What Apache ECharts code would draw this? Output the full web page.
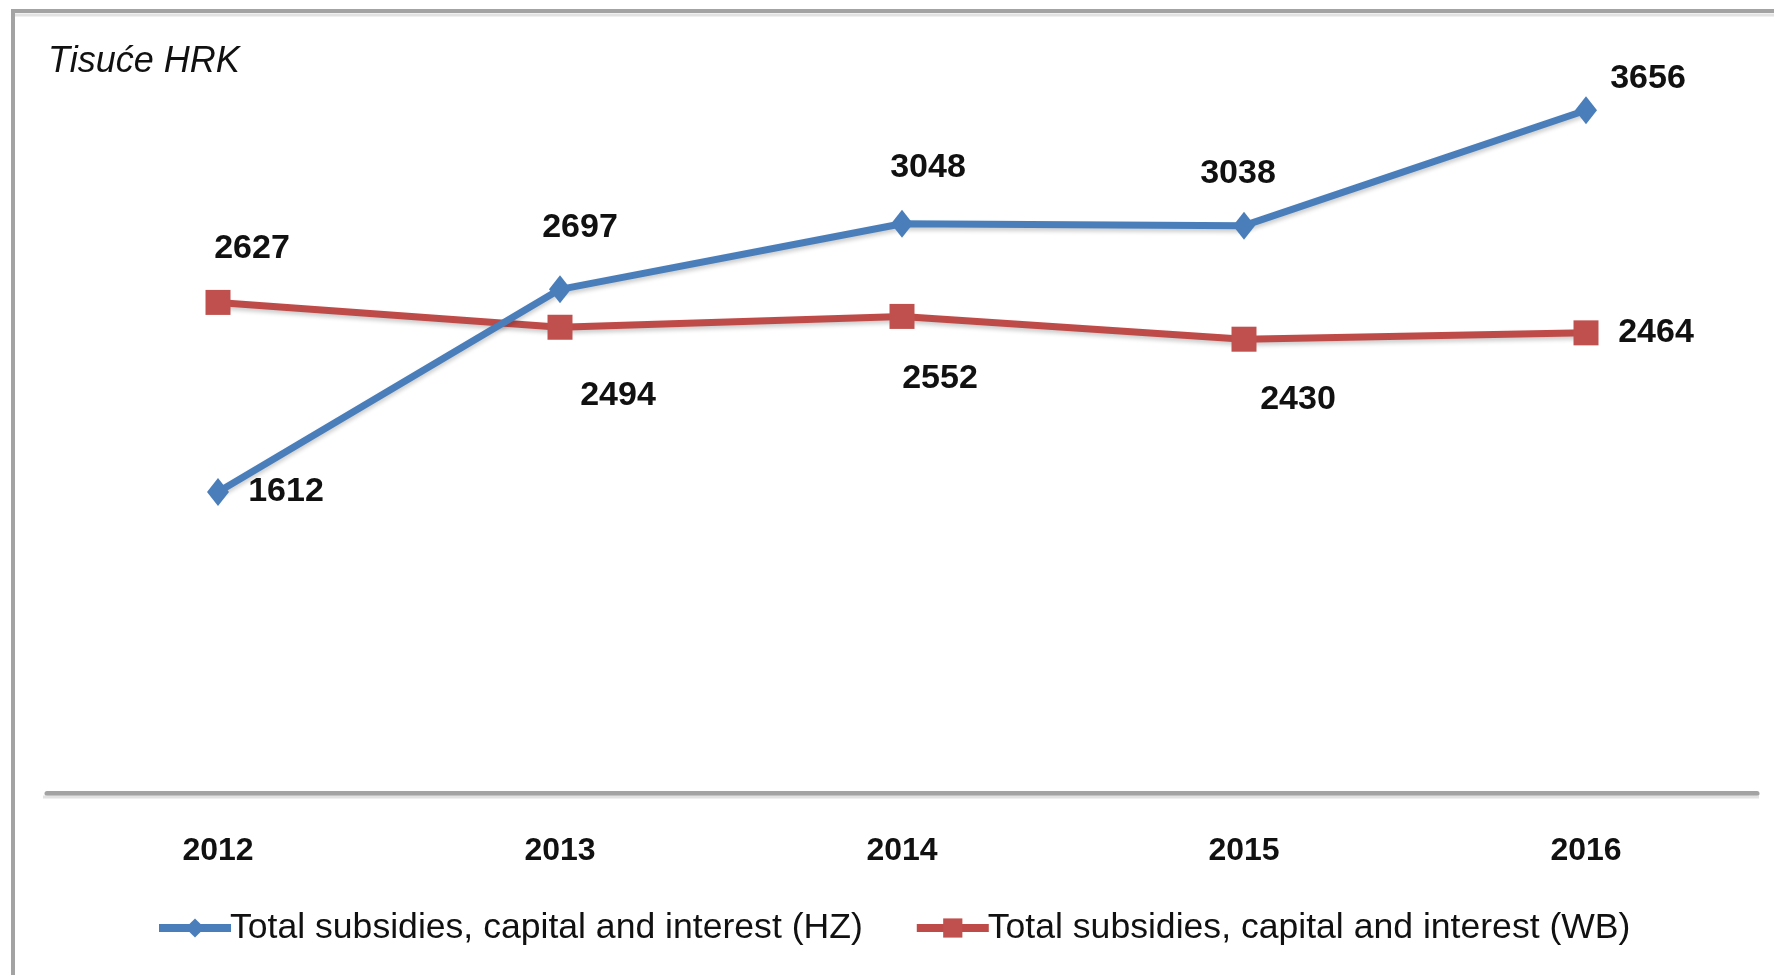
<!DOCTYPE html>
<html>
<head>
<meta charset="utf-8">
<script src="https://cdn.jsdelivr.net/npm/echarts@6/dist/echarts.min.js"></script>
<style>
  html, body { margin: 0; padding: 0; background: #fff; }
  #chart { width: 1774px; height: 975px; }
</style>
</head>
<body>
<div id="chart"></div>
<script>
// podaci
var years = ['2012', '2013', '2014', '2015', '2016'];
var hzValues = [1612, 2697, 3048, 3038, 3656];
var wbValues = [2627, 2494, 2552, 2430, 2464];
var seriesNames = ['Total subsidies, capital and interest (HZ)', 'Total subsidies, capital and interest (WB)'];

// label placement per point [dx, dy]
var hzLabelOffset = [[68, 0], [20, -62], [26, -56], [-6, -52], [62, -32]];
var wbLabelOffset = [[34, -54], [58, 68], [38, 62], [54, 60], [70, 0]];

var labelFont = {
  color: '#111',
  fontFamily: 'Liberation Sans',
  fontWeight: 'bold',
  fontSize: 34
};

function buildData (values, offsets) {
  return values.map(function (v, i) {
    return {
      value: v,
      label: Object.assign({ show: true, position: 'inside', offset: offsets[i] }, labelFont)
    };
  });
}

var chart = echarts.init(document.getElementById('chart'));
chart.setOption({
  backgroundColor: '#fff',
  animation: false,
  graphic: [
    { type: 'rect', shape: { x: 13, y: 11, width: 1800, height: 1000 },
      style: { fill: 'none', stroke: '#a3a3a3', lineWidth: 4 }, z: 0 },
    { type: 'line', shape: { x1: 15, y1: 15, x2: 1774, y2: 15 },
      style: { stroke: '#e2e2e2', lineWidth: 3 }, z: 0 },
    { type: 'text', left: 48, top: 44,
      style: { text: 'Tisuće HRK', font: 'italic 36px "Liberation Sans"', fill: '#111' } },
    { type: 'line', shape: { x1: 43, y1: 797, x2: 1759, y2: 797 },
      style: { stroke: '#e2e2e2', lineWidth: 3 }, z: 1 }
  ],
  grid: { left: 47, right: 17, top: 46, bottom: 182 },
  legend: {
    bottom: 24,
    left: 150,
    itemWidth: 72,
    itemHeight: 24,
    itemGap: 50,
    lineStyle: { width: 8 },
    textStyle: { fontFamily: 'Liberation Sans', fontSize: 35.6, color: '#111', padding: [0, 0, 0, -6] },
    data: seriesNames
  },
  xAxis: {
    type: 'category',
    data: years,
    boundaryGap: true,
    axisLine: { lineStyle: { color: '#a3a3a3', width: 5 } },
    axisTick: { show: false },
    axisLabel: { margin: 42, color: '#111', fontFamily: 'Liberation Sans', fontWeight: 'bold', fontSize: 32 }
  },
  yAxis: {
    type: 'value',
    min: 0,
    max: 4000,
    show: false,
    splitLine: { show: false }
  },
  series: [
    {
      name: seriesNames[0],
      type: 'line',
      data: buildData(hzValues, hzLabelOffset),
      symbol: 'diamond',
      symbolSize: [22, 28],
      color: '#4a7ebb',
      lineStyle: { width: 7, color: '#4a7ebb', shadowColor: 'rgba(0,0,0,0.2)', shadowBlur: 4, shadowOffsetY: 3 },
      itemStyle: { color: '#4a7ebb' },
      z: 3
    },
    {
      name: seriesNames[1],
      type: 'line',
      data: buildData(wbValues, wbLabelOffset),
      symbol: 'rect',
      symbolSize: 25,
      color: '#be4b48',
      lineStyle: { width: 7, color: '#be4b48', shadowColor: 'rgba(0,0,0,0.2)', shadowBlur: 4, shadowOffsetY: 3 },
      itemStyle: { color: '#c0504d' },
      z: 2
    }
  ]
});
</script>
</body>
</html>
